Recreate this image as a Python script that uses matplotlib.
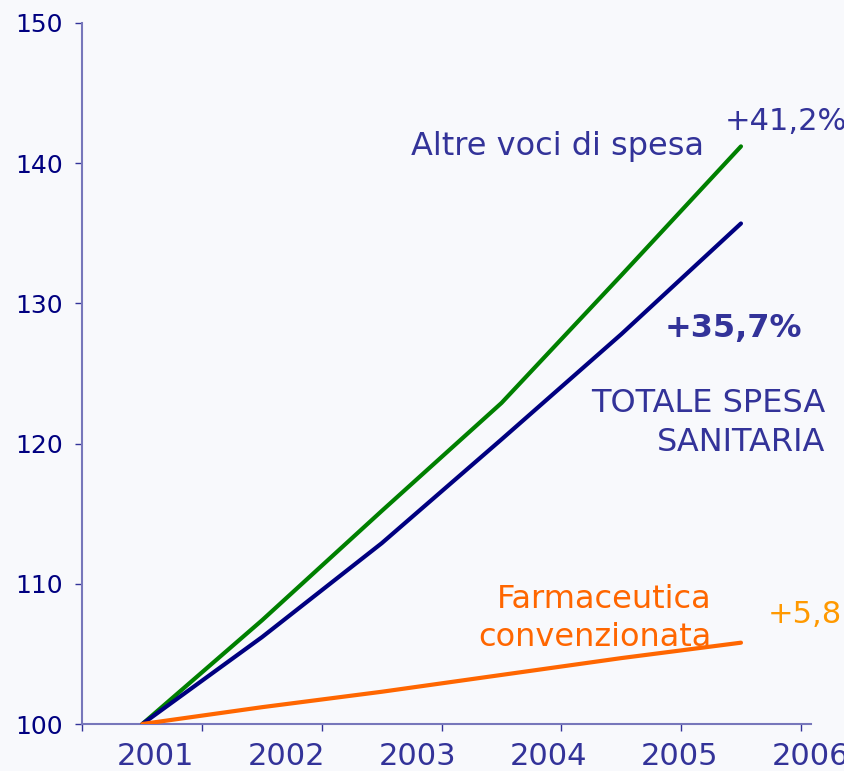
import numpy as np
import matplotlib
matplotlib.use("Agg")
import matplotlib.pyplot as plt

# dati (indice 2001 = 100)
anni = ['2001', '2002', '2003', '2004', '2005', '2006']
altre_voci = [100, 107.4, 115.2, 122.9, 132.0, 141.2]
totale = [100, 106.2, 112.9, 120.3, 127.8, 135.7]
farmaceutica = [100, 101.2, 102.3, 103.5, 104.7, 105.8]

W, H = 845, 771
bg = '#f8f9fc'
blu_testo = '#333399'

fig = plt.figure(figsize=(W / 100, H / 100), dpi=100, facecolor=bg)
ax = fig.add_axes([82.5 / W, 1 - 724 / H, (811 - 82.5) / W, (724 - 23) / H])
ax.set_facecolor(bg)

x = np.arange(len(anni)) + 0.5
ax.plot(x, altre_voci, color='#008000', lw=3, solid_capstyle='round', solid_joinstyle='round', zorder=3)
ax.plot(x, totale, color='#000080', lw=3, solid_capstyle='round', solid_joinstyle='round', zorder=3)
ax.plot(x, farmaceutica, color='#ff6600', lw=3, solid_capstyle='round', solid_joinstyle='round', zorder=3)

ax.set_xlim(0, 6)
ax.set_ylim(100, 150)

for s in ['top', 'right']:
    ax.spines[s].set_visible(False)
for s in ['left', 'bottom']:
    ax.spines[s].set_color('#7777bb')
    ax.spines[s].set_linewidth(1.5)

# asse y
ax.set_yticks(np.arange(100, 151, 10))
ax.tick_params(axis='y', direction='out', length=5, width=1, color='#333399',
               labelsize=18, labelcolor='#000080', pad=9)

# asse x: tacche ai bordi delle categorie, etichette spostate come nell'originale
ax.set_xticks(np.arange(0, 7))
ax.set_xticklabels([])
ax.tick_params(axis='x', which='major', direction='out', length=5, width=1, color='#333399')
ax.set_xticks(0.61 + 1.095 * np.arange(len(anni)), minor=True)
ax.set_xticklabels(anni, minor=True)
ax.tick_params(axis='x', which='minor', length=0, labelsize=22, labelcolor=blu_testo, pad=13)

# etichette
def testo(px, py, s, **kw):
    fig.text(px / W, 1 - py / H, s, va='baseline', **kw)

testo(411, 155, 'Altre voci di spesa', fontsize=23, color=blu_testo)
testo(725, 130, '+41,2%', fontsize=22, color=blu_testo)
testo(665, 337, '+35,7%', fontsize=23, color=blu_testo, fontweight='bold')
testo(825, 412, 'TOTALE SPESA', fontsize=23, color=blu_testo, ha='right')
testo(825, 451, 'SANITARIA', fontsize=23, color=blu_testo, ha='right')
testo(712, 608, 'Farmaceutica', fontsize=23, color='#ff6600', ha='right')
testo(712, 646, 'convenzionata', fontsize=23, color='#ff6600', ha='right')
testo(768, 623, '+5,8', fontsize=22, color='#ff9900')

fig.savefig('out.png', dpi=100, facecolor=bg)
